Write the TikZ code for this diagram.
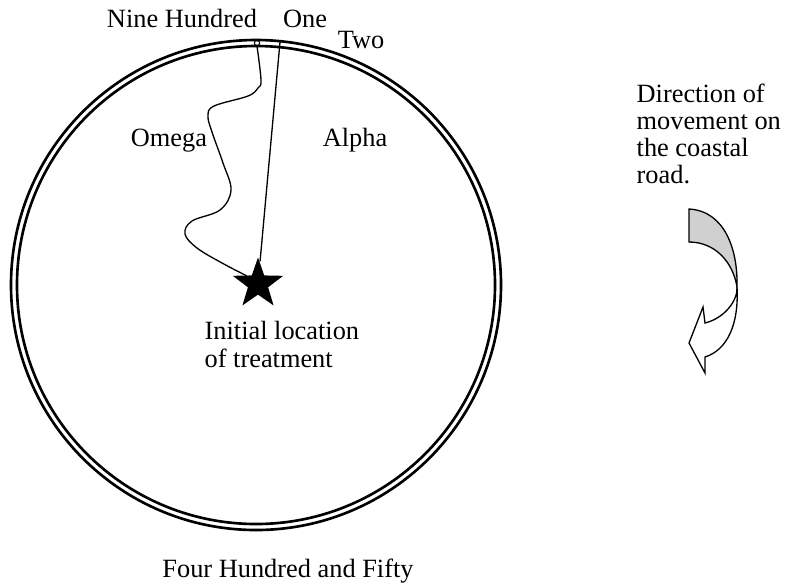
\documentclass[tikz,border=0pt]{standalone}
\usepackage{fontspec}
\setmainfont{Liberation Serif}
\usepackage{tikz}
\usetikzlibrary{shapes.geometric}
\definecolor{roadgrey}{HTML}{D0D0D0}
\tikzstyle{roadtext} = [inner sep=0pt, font=\fontsize{15}{15.5}\selectfont]
\tikzstyle{ring} = [line width=1.5pt]
\tikzstyle{junction} = [draw, shape=circle, minimum size=3pt, inner sep=0pt, line width=.6pt]
\tikzstyle{treatment} = [fill, shape=star, star points=5, star point ratio=2.5, minimum size=1.06cm, inner sep=0pt]

\begin{document}
\begin{tikzpicture}[x=0.02cm, y=-0.02cm, line width=.75pt]
    \useasboundingbox (0,0) rectangle (786,586);
    % the coastal road
    \draw [ring] (256,285) circle [radius=245];
    \draw [ring] (256,285) circle [radius=239];
    \draw (257,43) node[junction] (gate) {};
    \draw (258,284) node[treatment] (start) {};
    \coordinate (one) at (280,42);
    \draw (one) -- (start);
    \draw plot [smooth, tension=.6] coordinates {(gate.south) (261,80) (258,88) (248,96) (214,106) (208,116) (212,132) (223,163) (231,190) (220,210) (192,221) (185,234) (197,248) (222,263) (247,276)};
    % labels
    \node [roadtext, anchor=base] (ninehundred) at (182,27) {Nine Hundred};
    \node [roadtext, anchor=base] (onelabel) at (305,27) {One};
    \node [roadtext, anchor=base] (twolabel) at (361,48) {Two};
    \node [roadtext, anchor=base] (omega) at (169,146) {Omega};
    \node [roadtext, anchor=base] (alpha) at (355,146) {Alpha};
    \node [roadtext, anchor=north west, align=left] (initial) at (204,321) {Initial location\\of treatment};
    \node [roadtext, anchor=base] (fourfifty) at (288,577) {Four Hundred and Fifty};
    \node [roadtext, anchor=north west, align=left] (direction) at (636,83) {Direction of\\movement on\\the coastal\\road.};
    % direction arrow
    \filldraw [fill=roadgrey] (689,209) .. controls (725,211) and (738,250) .. (737,287) .. controls (733,262) and (715,242) .. (689,242) -- cycle;
    \draw [fill=white] (737,287) .. controls (739,325) and (727,350) .. (705,357) -- (705,373) -- (689,343) -- (703,307) -- (705,323) .. controls (725,318) and (738,300) .. (737,287);
\end{tikzpicture}
\end{document}
